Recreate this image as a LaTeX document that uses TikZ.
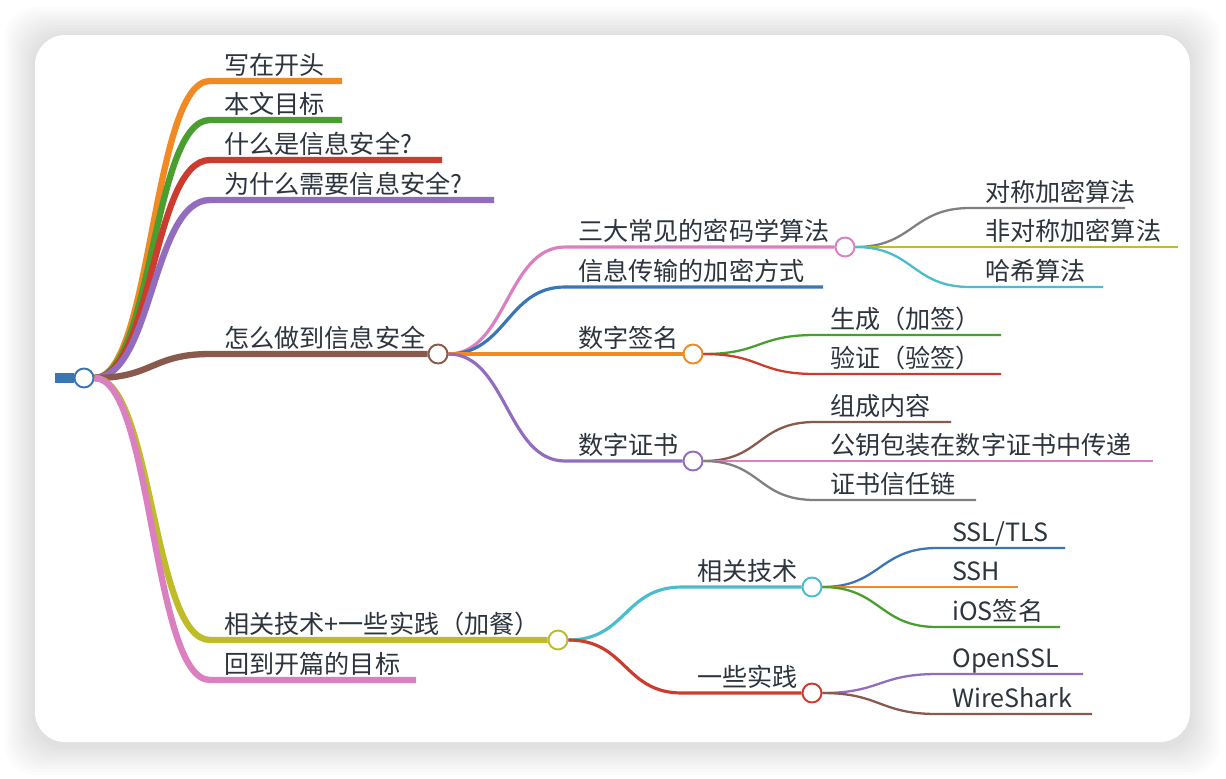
\documentclass[tikz,border=0pt]{standalone}
\usepackage{fontspec}
\setmainfont{Noto Sans CJK SC}
\definecolor{mmOrange}{RGB}{242,138,36}
\definecolor{mmGreen}{RGB}{74,158,47}
\definecolor{mmRed}{RGB}{204,60,46}
\definecolor{mmPurple}{RGB}{146,108,190}
\definecolor{mmBrown}{RGB}{137,89,78}
\definecolor{mmPink}{RGB}{219,127,192}
\definecolor{mmOlive}{RGB}{190,188,40}
\definecolor{mmBlue}{RGB}{58,118,180}
\definecolor{mmGray}{RGB}{128,128,128}
\definecolor{mmCyan}{RGB}{74,188,208}
\definecolor{mmText}{RGB}{45,52,62}
\begin{document}
\begin{tikzpicture}[x=0.02cm, y=-0.02cm,
  mmlv1/.style = {line width=3.6pt},
  mmlv2/.style = {line width=1.8pt},
  mmlv3/.style = {line width=1.3pt},
  mmdot/.style = {circle, fill=white, line width=1.1pt, minimum size=0.38cm, inner sep=0pt},
  mmlbl/.style = {anchor=base west, inner sep=0pt, text=mmText, font=\fontsize{14.3pt}{16pt}\selectfont}
]
  % 画布与卡片
  \useasboundingbox (0,0) rectangle (1226,778);
  \fill[white] (0,0) rectangle (1226,778);
  \foreach \k in {1,...,10}
    \fill[black, opacity=0.012, rounded corners=0.6cm]
      (35-3*\k,35-3*\k+2) rectangle (1190+3*\k,742+3*\k+3);
  \fill[white, rounded corners=0.6cm] (35,35) rectangle (1190,742);

  % 圆点
  \node[mmdot, draw=mmBlue] (root) at (84,378) {};
  \node[mmdot, draw=mmBrown] (n5) at (438,354) {};
  \node[mmdot, draw=mmOlive] (n6) at (558,640) {};
  \node[mmdot, draw=mmPink] (m1) at (845,247) {};
  \node[mmdot, draw=mmOrange] (m3) at (693,354) {};
  \node[mmdot, draw=mmPurple] (m4) at (693,461) {};
  \node[mmdot, draw=mmCyan] (p1) at (812,587) {};
  \node[mmdot, draw=mmRed] (p2) at (812,693) {};
  \coordinate (rootbar) at (55,378);
  \draw[line width=5.7pt, mmBlue] (rootbar) -- (root.west);

  % 一级分支
  \foreach \i/\y/\xe/\col/\txt in {1/81/342/mmOrange/写在开头, 2/120/342/mmGreen/本文目标,
      3/160/442/mmRed/什么是信息安全?, 4/200/494/mmPurple/为什么需要信息安全?} {
    \coordinate (k\i-s) at (210,\y);
    \coordinate (k\i-e) at (\xe,\y);
    \draw[mmlv1, \col] (root.east) .. controls +(58,0) and +(-58,0) .. (k\i-s) -- (k\i-e);
    \node[mmlbl] (t\i) at (224,\y-7) {\txt};
  }
  \coordinate (k5-s) at (210,354);
  \draw[mmlv1, mmBrown] (root.east) .. controls +(58,0) and +(-58,0) .. (k5-s) -- (n5.west);
  \node[mmlbl] (t5) at (224,347) {怎么做到信息安全};
  \coordinate (k6-s) at (210,640);
  \draw[mmlv1, mmOlive] (root.east) .. controls +(58,0) and +(-58,0) .. (k6-s) -- (n6.west);
  \node[mmlbl] (t6) at (224,633) {相关技术+一些实践（加餐）};
  \coordinate (k7-s) at (210,680);
  \coordinate (k7-e) at (416,680);
  \draw[mmlv1, mmPink] (root.east) .. controls +(58,0) and +(-58,0) .. (k7-s) -- (k7-e);
  \node[mmlbl] (t7) at (224,673) {回到开篇的目标};

  % 二级分支
  \coordinate (m1-s) at (565,247);
  \draw[mmlv2, mmPink] (n5.east) .. controls +(58,0) and +(-58,0) .. (m1-s) -- (m1.west);
  \node[mmlbl] (u1) at (578,240) {三大常见的密码学算法};
  \coordinate (m2-s) at (565,287);
  \coordinate (m2-e) at (823,287);
  \draw[mmlv2, mmBlue] (n5.east) .. controls +(58,0) and +(-58,0) .. (m2-s) -- (m2-e);
  \node[mmlbl] (u2) at (578,280) {信息传输的加密方式};
  \draw[mmlv2, mmOrange] (n5.east) -- (m3.west);
  \node[mmlbl] (u3) at (578,347) {数字签名};
  \coordinate (m4-s) at (565,461);
  \draw[mmlv2, mmPurple] (n5.east) .. controls +(58,0) and +(-58,0) .. (m4-s) -- (m4.west);
  \node[mmlbl] (u4) at (578,454) {数字证书};

  \coordinate (p1-s) at (682,587);
  \draw[mmlv2, mmCyan] (n6.east) .. controls +(58,0) and +(-58,0) .. (p1-s) -- (p1.west);
  \node[mmlbl] (v1) at (697,580) {相关技术};
  \coordinate (p2-s) at (682,693);
  \draw[mmlv2, mmRed] (n6.east) .. controls +(58,0) and +(-58,0) .. (p2-s) -- (p2.west);
  \node[mmlbl] (v2) at (697,686) {一些实践};

  % 三级分支
  \foreach \src/\i/\y/\xs/\xe/\col/\txt in {
      m1/a/208/970/1125/mmGray/对称加密算法, m1/b/247/970/1178/mmOlive/非对称加密算法,
      m1/c/287/970/1103/mmCyan/哈希算法,
      m3/d/335/815/1001/mmGreen/生成（加签）, m3/e/374/815/1001/mmRed/验证（验签）,
      m4/f/422/815/951/mmBrown/组成内容, m4/g/461/815/1153/mmPink/公钥包装在数字证书中传递,
      m4/h/500/815/976/mmGray/证书信任链,
      p1/i/548/937/1065/mmBlue/{SSL/TLS}, p1/j/587/937/1018/mmOrange/SSH,
      p1/k/627/937/1060/mmGreen/iOS签名,
      p2/l/674/937/1083/mmPurple/OpenSSL, p2/m/714/937/1092/mmBrown/WireShark} {
    \coordinate (q\i-s) at (\xs,\y);
    \coordinate (q\i-e) at (\xe,\y);
    \draw[mmlv3, \col] (\src.east) .. controls +(58,0) and +(-58,0) .. (q\i-s) -- (q\i-e);
    \node[mmlbl] (w\i) at (\xs+15,\y-7) {\txt};
  }
\end{tikzpicture}
\end{document}
